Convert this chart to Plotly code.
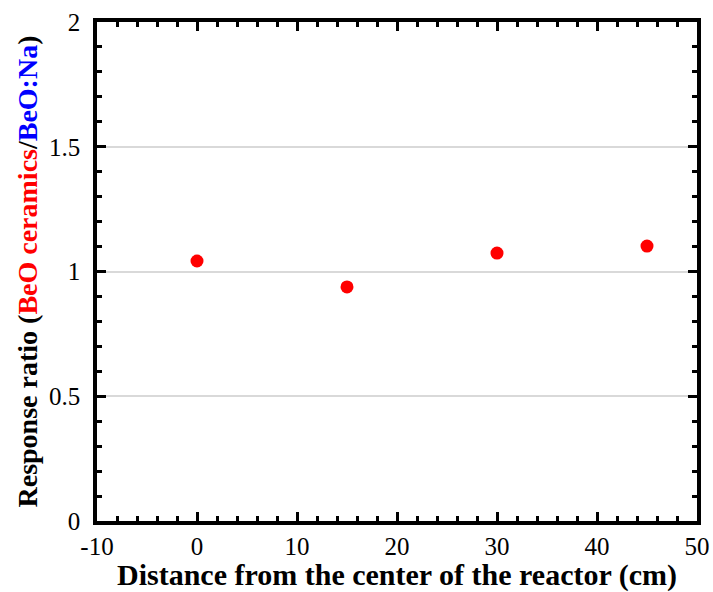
import plotly.graph_objects as go

distance_cm = [0, 15, 30, 45]
response_ratio = [1.042, 0.938, 1.074, 1.102]

x_ticks = [-10, 0, 10, 20, 30, 40, 50]
x_tick_text = ["-10", "0", "10", "20", "30", "40", "50"]
y_ticks = [0, 0.5, 1, 1.5, 2]
y_tick_text = ["0", "0.5", "1", "1.5", "2"]

FONT = "Liberation Serif, Times New Roman, serif"

fig = go.Figure()
fig.add_trace(go.Scatter(
    x=distance_cm, y=response_ratio, mode="markers",
    marker=dict(color="#ff0000", size=13, line=dict(width=0)),
    showlegend=False,
))

axis_common = dict(
    showline=True, linecolor="black", linewidth=3.5, mirror="ticks",
    ticks="inside", ticklen=9, tickwidth=3, tickcolor="black",
    tickfont=dict(family=FONT, size=25, color="black"),
    zeroline=False, automargin=False,
)

fig.update_xaxes(
    range=[-10, 50], tickvals=x_ticks, ticktext=x_tick_text, showgrid=False,
    minor=dict(dtick=2, ticks="inside", ticklen=5, tickwidth=3, tickcolor="black", showgrid=False),
    title=dict(text="<b>Distance from the center of the reactor (cm)</b>",
               font=dict(family=FONT, size=30, color="black"), standoff=5),
    **axis_common,
)
fig.update_yaxes(
    range=[0, 2], tickvals=y_ticks, ticktext=y_tick_text,
    showgrid=True, gridcolor="#d9d9d9", gridwidth=2,
    ticklabelstandoff=8,
    minor=dict(dtick=0.1, ticks="inside", ticklen=5, tickwidth=3, tickcolor="black", showgrid=False),
    title=dict(text="<b>Response ratio (<span style='color:#ff0000'>BeO ceramics</span>/<span style='color:#0000ff'>BeO:Na</span>)</b>",
               font=dict(family=FONT, size=28, color="black"), standoff=4),
    **axis_common,
)

fig.update_layout(
    width=713, height=592,
    margin=dict(l=97, r=16, t=22, b=71),
    paper_bgcolor="white", plot_bgcolor="white",
    font=dict(family=FONT, color="black"),
)

fig.write_html("out.html", config={"displayModeBar": False},
               post_script="document.body.style.margin='0';document.body.style.overflow='hidden';")
